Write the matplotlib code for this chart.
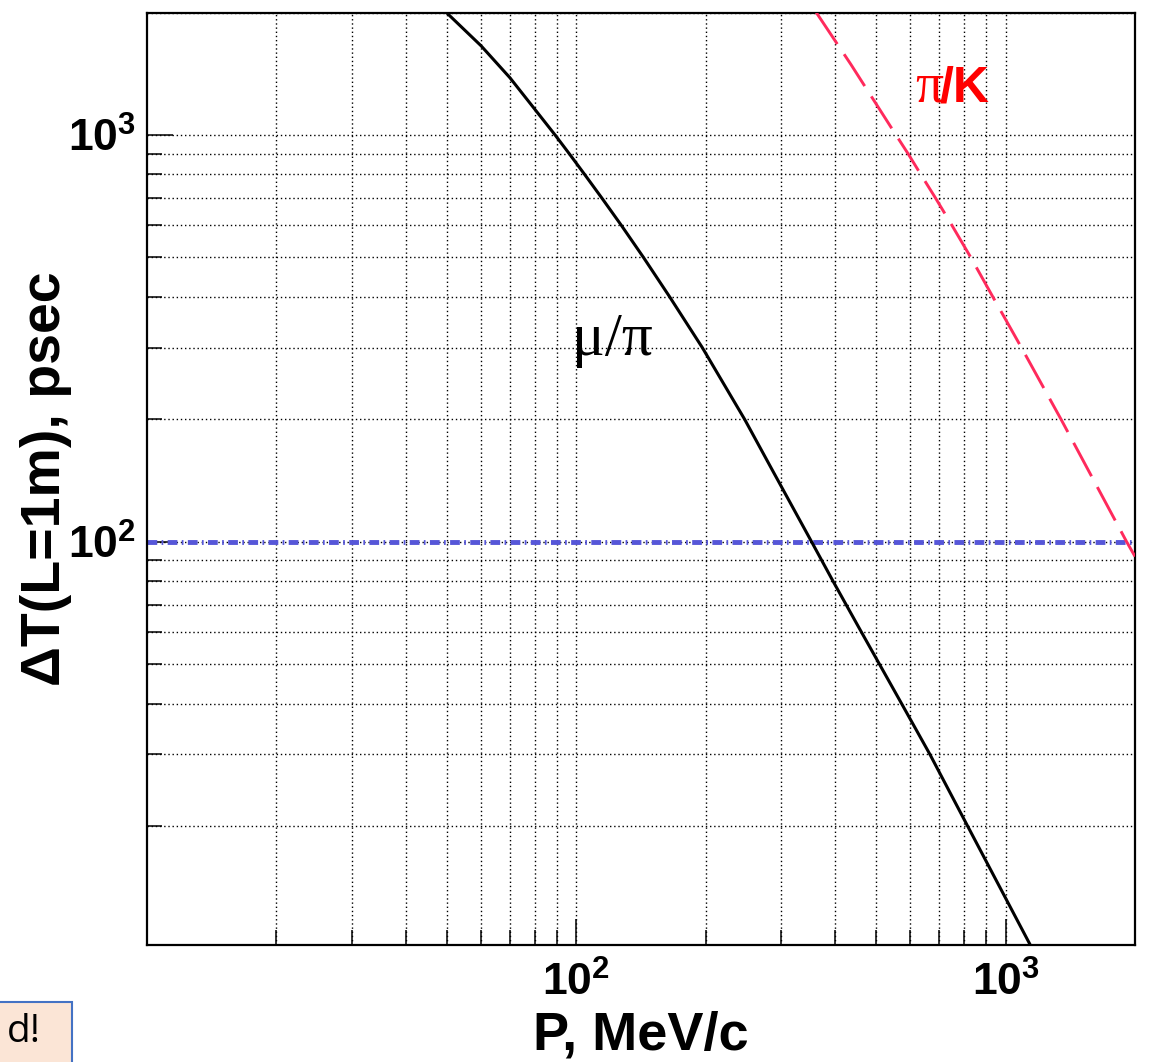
import matplotlib
matplotlib.use('Agg')
import matplotlib.pyplot as plt
from matplotlib.patches import Rectangle

# 数据：从图上读取 (P in MeV/c, ΔT in psec)
mu_pi_p = [49.8, 60, 70, 80, 89.2, 96.2, 104.5, 114.6, 127.2, 143.3, 164.9, 196.5,
           246.5, 286, 353, 396, 461, 508, 572, 666, 815, 1152]
mu_pi_dt = [2000, 1656, 1383, 1157, 1000, 900, 800, 700, 600, 500, 400, 300,
            200, 150, 100, 80, 60, 50, 40, 30, 20, 10]

pi_k_p = [362, 436, 555, 592, 634, 686, 749, 829, 933, 1088, 1345, 1912, 2000]
pi_k_dt = [2000, 1490, 1000, 900, 800, 700, 600, 500, 400, 300, 200, 100, 92]

limit_p = [10, 2000]
limit_dt = [100, 100]

x_major = [100, 1000]
x_major_labels = [r'$\mathbf{10^{2}}$', r'$\mathbf{10^{3}}$']
x_minor = [20, 30, 40, 50, 60, 70, 80, 90, 200, 300, 400, 500, 600, 700, 800, 900, 2000]
y_major = [100, 1000]
y_major_labels = [r'$\mathbf{10^{2}}$', r'$\mathbf{10^{3}}$']
y_minor = [20, 30, 40, 50, 60, 70, 80, 90, 200, 300, 400, 500, 600, 700, 800, 900, 2000]

plt.rcParams['mathtext.fontset'] = 'custom'
plt.rcParams['mathtext.bf'] = 'Liberation Sans:bold'
plt.rcParams['mathtext.rm'] = 'Liberation Sans:bold'
plt.rcParams['font.family'] = ['Liberation Sans', 'DejaVu Sans']

fig = plt.figure(figsize=(11.5, 10.62), dpi=100)
ax = fig.add_axes([147 / 1150, 117 / 1062, 988 / 1150, 932.5 / 1062])

ax.set_xscale('log')
ax.set_yscale('log')
ax.set_xlim(10, 2000)
ax.set_ylim(10.2, 2000)

# 曲线
ax.plot(limit_p, limit_dt, color='#5656d8', linewidth=3.5,
        linestyle=(0, (2.0, 0.9, 0.35, 0.9)), zorder=2)
ax.plot(mu_pi_p, mu_pi_dt, color='black', linewidth=2.2, zorder=3)
ax.plot(pi_k_p, pi_k_dt, color='#ff2a5c', linewidth=2.1,
        linestyle=(0, (13, 4.2)), zorder=3)

# 网格与刻度
ax.set_xticks(x_major, labels=x_major_labels)
ax.set_xticks(x_minor, minor=True, labels=[''] * len(x_minor))
ax.set_yticks(y_major, labels=y_major_labels)
ax.set_yticks(y_minor, minor=True, labels=[''] * len(y_minor))
ax.grid(True, which='both', color='black', linestyle=(0, (1, 2)), linewidth=1.0)
ax.tick_params(which='both', direction='in', width=1.1, colors='black')
ax.tick_params(which='major', length=19)
ax.tick_params(which='minor', length=11)
ax.tick_params(axis='x', which='major', labelsize=32, pad=12)
ax.tick_params(axis='y', which='major', labelsize=32, pad=8)
for sp in ax.spines.values():
    sp.set_linewidth(1.6)

# 坐标轴标题
ax.set_xlabel('P, MeV/c', fontsize=39, fontweight='bold')
ax.xaxis.set_label_coords(0.5, -(1049 - 945) / 932.5)
ax.xaxis.label.set_va('baseline')
ax.set_ylabel('ΔT(L=1m), psec', fontsize=40, fontweight='bold')
ax.yaxis.set_label_coords((60 - 147) / 988, 0.5)
ax.yaxis.label.set_va('baseline')

# 曲线标注
ax.text(97.5, 288, 'μ/π', family='Liberation Serif', fontsize=44,
        ha='left', va='baseline')
ax.text(614.5, 1209, 'π', family='Liberation Serif', fontsize=40,
        color='red', ha='left', va='baseline')
ax.text(702.8, 1209, '/K', fontsize=36, fontweight='bold',
        color='red', ha='left', va='baseline')

# 左下角被截断的文本框
fig.patches.append(Rectangle((-0.01, -0.01), 71.7 / 1150 + 0.01, 60 / 1062 + 0.01,
                             transform=fig.transFigure, facecolor='#fbe5d6',
                             edgecolor='#4472c4', linewidth=1.5))
fig.text(41 / 1150, 20 / 1062, 'd!', fontsize=28, family='Open Sans',
         ha='right', va='baseline')

fig.savefig('out.png', dpi=100)
plt.close(fig)
